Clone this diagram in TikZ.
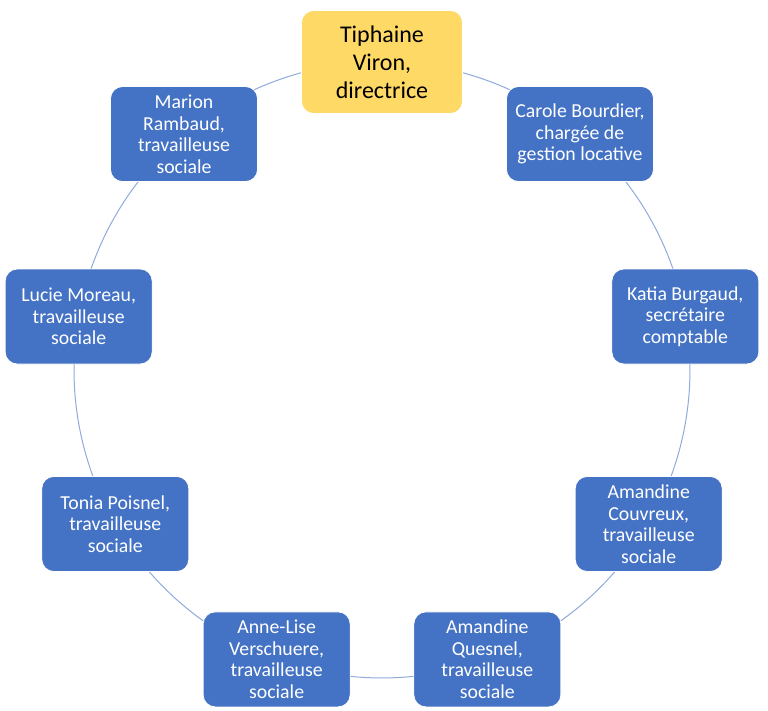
\documentclass[tikz,border=0pt]{standalone}
\usepackage{fontspec}
\setmainfont{Carlito}
\usepackage{xcolor}
\usepackage{tikz}
\usetikzlibrary{positioning, backgrounds}

\definecolor{boxblue}{HTML}{4472C4}
\definecolor{boxyellow}{HTML}{FFD966}
\definecolor{ringblue}{HTML}{8FAADC}

\begin{document}
\begin{tikzpicture}[x=0.5pt, y=0.5pt,
    member/.style={rectangle, rounded corners=6pt, fill=boxblue, draw=white, line width=0.4pt,
        text=white, minimum width=73.5pt, minimum height=47.5pt, inner sep=1pt, align=center,
        font=\fontsize{9.9}{10.75}\selectfont},
    head/.style={member, fill=boxyellow, text=black, minimum width=80.5pt, minimum height=51.5pt,
        font=\fontsize{12}{14}\selectfont},
    ring/.style={draw=ringblue, line width=0.5pt, bend left=20, looseness=0.88}]
    \useasboundingbox (0,0) rectangle (768,711);

    % Les postes autour du cercle
    \begin{scope}[shift={(382,341)}]
        \node[head] (viron) at (90:308) {Tiphaine\\Viron,\\directrice};
        \node[member] (bourdier) at (50:308) {Carole Bourdier,\\chargée de\\gestion locative};
        \node[member] (burgaud) at (10:308) {Katia Burgaud,\\secrétaire\\comptable};
        \node[member] (couvreux) at (-30:308) {Amandine\\Couvreux,\\travailleuse\\sociale};
        \node[member] (quesnel) at (-70:308) {Amandine\\Quesnel,\\travailleuse\\sociale};
        \node[member] (verschuere) at (-110:308) {Anne-Lise\\Verschuere,\\travailleuse\\sociale};
        \node[member] (poisnel) at (-150:308) {Tonia Poisnel,\\travailleuse\\sociale};
        \node[member] (moreau) at (170:308) {Lucie Moreau,\\travailleuse\\sociale};
        \node[member] (rambaud) at (130:308) {Marion\\Rambaud,\\travailleuse\\sociale};
    \end{scope}

    % Les arcs entre les postes (derriere les boites)
    \begin{pgfonlayer}{background}
        \draw[ring] (viron.center) to (bourdier.center);
        \draw[ring] (bourdier.center) to (burgaud.center);
        \draw[ring] (burgaud.center) to (couvreux.center);
        \draw[ring] (couvreux.center) to (quesnel.center);
        \draw[ring] (quesnel.center) to (verschuere.center);
        \draw[ring] (verschuere.center) to (poisnel.center);
        \draw[ring] (poisnel.center) to (moreau.center);
        \draw[ring] (moreau.center) to (rambaud.center);
        \draw[ring] (rambaud.center) to (viron.center);
    \end{pgfonlayer}
\end{tikzpicture}
\end{document}
